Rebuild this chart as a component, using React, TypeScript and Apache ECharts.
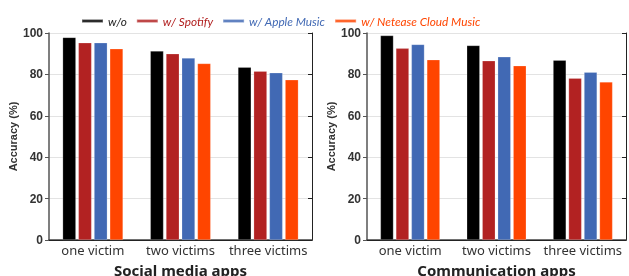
import React, { useEffect, useRef } from "react";
import * as echarts from "echarts";

const categories = ["one victim", "two victims", "three victims"];
const seriesNames = ["w/o", "w/ Spotify", "w/ Apple Music", "w/ Netease Cloud Music"];
const colors = ["#000000", "#B22222", "#4169B4", "#FF4500"];

const socialWo = [97.9, 91.3, 83.5];
const socialSpotify = [95.3, 90.0, 81.6];
const socialApple = [95.3, 87.9, 80.8];
const socialNetease = [92.4, 85.3, 77.4];

const commWo = [98.8, 94.0, 86.9];
const commSpotify = [92.6, 86.6, 78.2];
const commApple = [94.5, 88.5, 81.1];
const commNetease = [87.1, 84.2, 76.4];

const yTicks = [0, 20, 40, 60, 80, 100];
const panelTitles = ["Social media apps", "Communication apps"];

export default function App() {
  const ref = useRef<HTMLDivElement>(null);
  useEffect(() => {
    if (!ref.current) return;
    const chart = echarts.init(ref.current, null, { renderer: "svg" });
    const grids = [
      { left: 49, top: 33, width: 263, bottom: 36, outerBoundsMode: "none", containLabel: false },
      { left: 367, top: 33, width: 259, bottom: 36, outerBoundsMode: "none", containLabel: false },
    ];
    const panelData = [
      [socialWo, socialSpotify, socialApple, socialNetease],
      [commWo, commSpotify, commApple, commNetease],
    ];
    const xAxis: any[] = [];
    const yAxis: any[] = [];
    const series: any[] = [];
    grids.forEach((g, i) => {
      xAxis.push({
        type: "category",
        gridIndex: i,
        data: categories,
        name: panelTitles[i],
        nameLocation: "middle",
        nameGap: 22,
        nameTextStyle: { fontFamily: "Noto Sans", fontWeight: "bold", fontSize: 15, color: "#222" },
        axisLine: { lineStyle: { color: "#444", width: 1.5 } },
        axisTick: { show: false },
        axisLabel: { interval: 0, fontFamily: "Noto Sans", fontSize: 13, color: "#333", margin: 3 },
      });
      xAxis.push({
        type: "category",
        gridIndex: i,
        data: categories,
        position: "top",
        axisLine: { show: true, lineStyle: { color: "#222", width: 1 } },
        axisTick: { show: false },
        axisLabel: { show: false },
      });
      yAxis.push({
        type: "value",
        gridIndex: i,
        min: yTicks[0],
        max: yTicks[yTicks.length - 1],
        interval: 20,
        name: "Accuracy (%)",
        nameLocation: "middle",
        nameGap: 31,
        nameTextStyle: { fontFamily: "Liberation Sans", fontWeight: "bold", fontSize: 11, color: "#333" },
        axisLine: { show: true, lineStyle: { color: "#555", width: 1.5 } },
        axisTick: { show: true, length: 4, lineStyle: { color: "#555" } },
        axisLabel: { fontFamily: "Liberation Sans", fontWeight: "bold", fontSize: 12, color: "#333", margin: 6 },
        splitLine: { show: true, lineStyle: { color: "#e3e3e3", width: 1 } },
      });
      yAxis.push({
        type: "value",
        gridIndex: i,
        min: yTicks[0],
        max: yTicks[yTicks.length - 1],
        interval: 20,
        position: "right",
        axisLine: { show: true, lineStyle: { color: "#222", width: 1 } },
        axisTick: { show: true, inside: true, length: 4, lineStyle: { color: "#222" } },
        axisLabel: { show: false },
        splitLine: { show: false },
      });
      panelData[i].forEach((vals, k) => {
        series.push({
          type: "bar",
          name: seriesNames[k],
          xAxisIndex: i * 2,
          yAxisIndex: i * 2,
          data: vals,
          barCategoryGap: "31%",
          barGap: "18%",
          itemStyle: { color: colors[k], borderColor: "rgba(255,255,255,0.35)", borderWidth: 0.6 },
        });
      });
    });
    chart.setOption({
      animation: false,
      legend: {
        top: 10,
        left: 76,
        itemWidth: 21,
        itemHeight: 3,
        itemGap: 9,
        icon: "rect",
        data: seriesNames.map((n, k) => ({ name: n, textStyle: { color: colors[k] === "#000000" ? "#222" : colors[k] } })),
        textStyle: { fontFamily: "Lato", fontStyle: "italic", fontSize: 11.8 },
      },
      grid: grids,
      xAxis,
      yAxis,
      series,
    });
    return () => chart.dispose();
  }, []);
  return <div ref={ref} style={{ position: "fixed", left: 0, top: 0, width: 629, height: 276 }} />;
}
